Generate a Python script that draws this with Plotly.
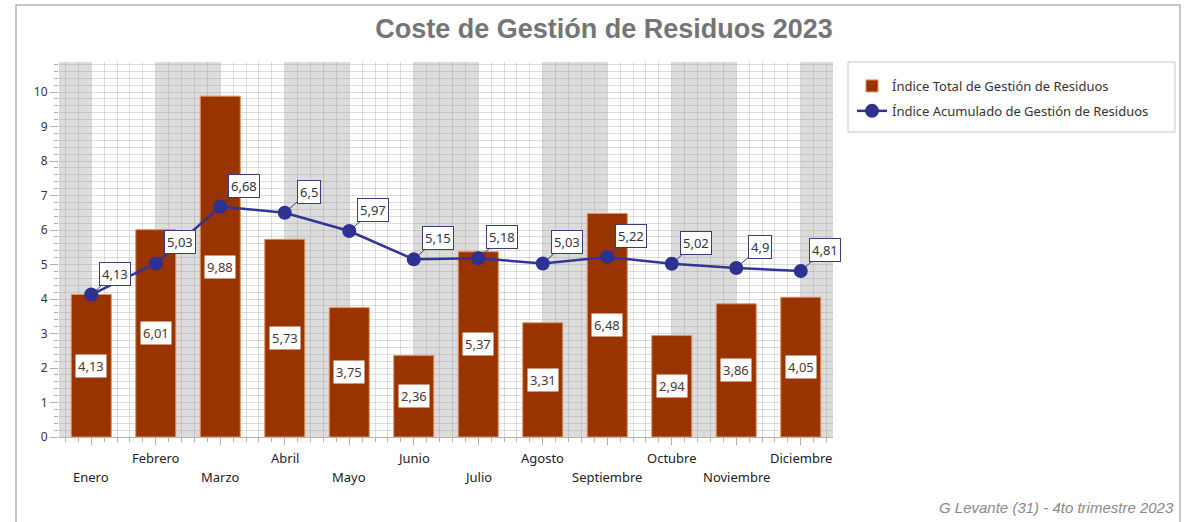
import plotly.graph_objects as go

meses = ["Enero", "Febrero", "Marzo", "Abril", "Mayo", "Junio", "Julio",
         "Agosto", "Septiembre", "Octubre", "Noviembre", "Diciembre"]
indice_total = [4.13, 6.01, 9.88, 5.73, 3.75, 2.36, 5.37, 3.31, 6.48, 2.94, 3.86, 4.05]
indice_acumulado = [4.13, 5.03, 6.68, 6.5, 5.97, 5.15, 5.18, 5.03, 5.22, 5.02, 4.9, 4.81]

titulo = "Coste de Gestión de Residuos 2023"
nombre_total = "Índice Total de Gestión de Residuos"
nombre_acum = "Índice Acumulado de Gestión de Residuos"
pie = "G Levante (31) - 4to trimestre 2023"

W, H = 1188, 522
ML, MR, MT, MB = 59, 355, 62, 85
PW = W - ML - MR
PH = H - MT - MB

FONT = "Noto Sans"
BAR_C = "#993300"
LINE_C = "#333399"

def fmt(v):
    return f"{v:g}".replace(".", ",")

def px_x(px):
    return (px - ML) / PW

def px_y(py):
    return (MT + PH - py) / PH

xs = list(range(len(meses)))

fig = go.Figure()
fig.add_trace(go.Bar(
    x=xs, y=indice_total, name=nombre_total, width=0.62, legendgroup="a",
    marker=dict(color=BAR_C, line=dict(color="#e0915f", width=1)),
))
fig.add_trace(go.Scatter(
    x=xs, y=indice_acumulado, name=nombre_acum, mode="lines+markers",
    legendgroup="b",
    line=dict(color=LINE_C, width=2.5),
    marker=dict(color="#2d3190", size=14),
))

shapes = []
edges = [-0.5] + xs + [11.5]
for k in range(len(edges) - 1):
    if k % 2 == 0:
        shapes.append(dict(type="rect", xref="x", yref="paper",
                           x0=edges[k], x1=edges[k + 1], y0=0, y1=1,
                           fillcolor="#dcdcdc", line=dict(width=0), layer="below"))
# outer border
shapes.append(dict(type="rect", xref="paper", yref="paper",
                   x0=px_x(16), x1=px_x(1180), y0=px_y(540), y1=px_y(5),
                   line=dict(color="#b4b4b4", width=1.5), fillcolor="rgba(0,0,0,0)",
                   layer="above"))
# legend frame
shapes.append(dict(type="rect", xref="paper", yref="paper",
                   x0=px_x(848), x1=px_x(1175), y0=px_y(132), y1=px_y(62),
                   line=dict(color="#c8c8c8", width=1), fillcolor="white",
                   layer="below"))

annotations = []
for i, v in enumerate(indice_total):
    annotations.append(dict(x=i, y=v / 2, xref="x", yref="y", text=fmt(v),
                            showarrow=False, bgcolor="white", borderpad=2,
                            font=dict(family=FONT, size=13, color="#4a3a30")))
for i, v in enumerate(indice_acumulado):
    annotations.append(dict(x=i, y=v, xref="x", yref="y", text=fmt(v),
                            showarrow=True, arrowhead=0, arrowwidth=1,
                            arrowcolor=LINE_C, ax=24, ay=-21, standoff=0,
                            bgcolor="white", bordercolor="#3c3c78", borderwidth=1,
                            borderpad=2,
                            font=dict(family=FONT, size=13, color="#333344")))
for i, m in enumerate(meses):
    annotations.append(dict(x=i, y=0, xref="x", yref="paper", text=m,
                            showarrow=False, yanchor="middle",
                            yshift=-40 if i % 2 == 0 else -21,
                            font=dict(family=FONT, size=13, color="#222222")))
annotations.append(dict(x=px_x(1176), y=px_y(507),
                        xref="paper", yref="paper", text="<i>" + pie + "</i>",
                        xanchor="right", yanchor="middle", showarrow=False,
                        font=dict(family="Liberation Sans", size=15, color="#8a8a8a")))

grid_c = "rgba(150,150,150,0.32)"
fig.update_layout(
    width=W, height=H,
    margin=dict(l=ML, r=MR, t=MT, b=MB),
    paper_bgcolor="white", plot_bgcolor="white",
    title=dict(text="<b>" + titulo + "</b>", x=604 / W, xanchor="center",
               y=1 - 29 / H, yanchor="middle",
               font=dict(family="Liberation Sans", size=27, color="#757575")),
    showlegend=True,
    legend=dict(x=px_x(852), y=px_y(71), xanchor="left", yanchor="top",
                bgcolor="rgba(0,0,0,0)", borderwidth=0,
                font=dict(family=FONT, size=13, color="#333333"),
                traceorder="grouped", itemwidth=30, tracegroupgap=5),
    xaxis=dict(range=[-0.5, 11.5], tickmode="linear", tick0=0, dtick=1,
               showticklabels=False, showgrid=True, gridcolor=grid_c, gridwidth=1,
               zeroline=False, showline=True, linecolor="#c0b0a8",
               ticks="outside", ticklen=7, tickcolor="#b0b0b0",
               minor=dict(tick0=0, dtick=0.2, showgrid=True, gridcolor=grid_c,
                          ticks="outside", ticklen=4, tickcolor="#b0b0b0")),
    yaxis=dict(range=[0, 10.87], tickmode="linear", tick0=0, dtick=1,
               showgrid=True, gridcolor=grid_c, gridwidth=1, zeroline=False,
               showline=False, ticks="outside", ticklen=8, tickcolor="#b0b0b0",
               tickfont=dict(family=FONT, size=12, color="#333333"),
               minor=dict(tick0=0, dtick=0.2, showgrid=True, gridcolor=grid_c,
                          ticks="outside", ticklen=4, tickcolor="#b0b0b0")),
    shapes=shapes,
    annotations=annotations,
    bargap=0.38,
)

fig.write_html("out.html", config={"displayModeBar": False},
               post_script="document.body.style.margin='0';document.body.style.overflow='hidden';")
